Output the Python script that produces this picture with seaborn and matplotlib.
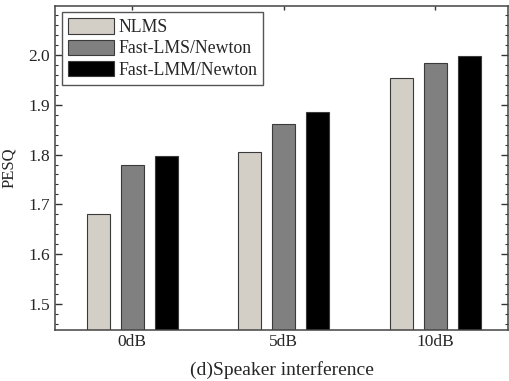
import matplotlib
matplotlib.use("Agg")
import matplotlib.pyplot as plt
from matplotlib.ticker import MultipleLocator, FormatStrFormatter
import pandas as pd
import seaborn as sns

# PESQ scores under speaker interference at three SNR levels
conditions = ["0dB", "5dB", "10dB"]
methods = ["NLMS", "Fast-LMS/Newton", "Fast-LMM/Newton"]
nlms = [1.680, 1.805, 1.953]
fast_lms = [1.780, 1.862, 1.983]
fast_lmm = [1.797, 1.886, 1.998]

palette = ["#D3CFC7", "#808080", "#000000"]

rows = []
for m, vals in zip(methods, [nlms, fast_lms, fast_lmm]):
    for c, v in zip(conditions, vals):
        rows.append({"condition": c, "method": m, "PESQ": v})
df = pd.DataFrame(rows)

sns.set_style("ticks")
plt.rcParams["font.family"] = ["Liberation Serif", "DejaVu Serif"]

fig = plt.figure(figsize=(5.09, 3.81), dpi=100)
ax = fig.add_axes([55 / 509, 51 / 381, 453 / 509, 324 / 381])

sns.barplot(data=df, x="condition", y="PESQ", hue="method",
            order=conditions, hue_order=methods, palette=palette,
            width=0.672, gap=0.32, edgecolor="#3a3a3a", linewidth=0.8,
            saturation=1, errorbar=None, ax=ax)

ax.set_xlim(-0.51, 2.48)
ax.set_ylim(1.448, 2.098)
ax.yaxis.set_major_locator(MultipleLocator(0.1))
ax.yaxis.set_minor_locator(MultipleLocator(0.02))
ax.yaxis.set_major_formatter(FormatStrFormatter("%.1f"))

ax.tick_params(axis="y", which="major", direction="in", length=5, width=1,
               left=True, right=True, labelsize=12.5, color="#333333")
ax.tick_params(axis="y", which="minor", direction="in", length=2.5, width=0.8,
               left=True, right=True, color="#333333")
ax.tick_params(axis="x", direction="in", length=3, width=1,
               bottom=False, top=True, labelsize=12.5, pad=3, color="#333333")

for side in ["left", "right", "top", "bottom"]:
    ax.spines[side].set_color("#444444")
    ax.spines[side].set_linewidth(1.1)

ax.set_xlabel("(d)Speaker interference", fontsize=14, labelpad=8)
ax.set_ylabel("PESQ", fontsize=12, labelpad=8)

leg = ax.legend(loc="upper left", bbox_to_anchor=(0.0155, 0.981),
                borderaxespad=0, fontsize=12.8, frameon=True, fancybox=False,
                handlelength=2.6, handleheight=0.95, handletextpad=0.2,
                labelspacing=0.2, borderpad=0.35, title=None)
leg.get_frame().set_edgecolor("#555555")
leg.get_frame().set_linewidth(1.0)
leg.get_frame().set_alpha(1)

fig.savefig("out.png", dpi=100)
